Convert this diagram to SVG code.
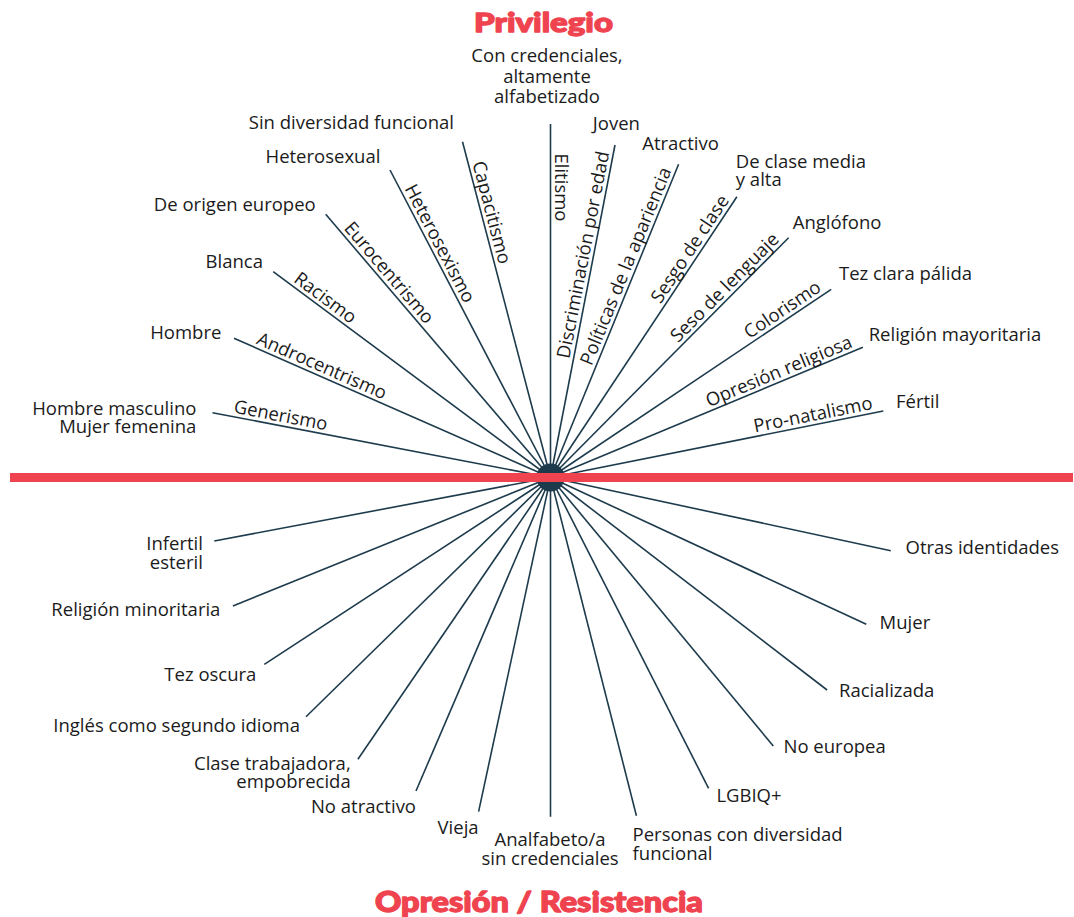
<svg xmlns="http://www.w3.org/2000/svg" width="1074" height="917" viewBox="0 0 1074 917">
<style>
.t{font-family:"Open Sans","DejaVu Sans",sans-serif;font-size:18.5px;fill:#1b1b1b}
.e{text-anchor:end}
.m{text-anchor:middle}
.lab{font-family:"Open Sans","DejaVu Sans",sans-serif;font-size:18.5px;fill:#1b1b1b}
.title{font-family:"Lato","Open Sans",sans-serif;font-weight:900;fill:#ef4450;stroke:#ef4450;stroke-width:1.3;stroke-linejoin:round;text-anchor:middle}
.ln{stroke:#1d3b4c;stroke-width:1.6;fill:none}
</style>
<rect width="1074" height="917" fill="#ffffff"/>
<g id="connectors">
<circle cx="550.5" cy="477.5" r="14" fill="#1d3b4c"/>
<g class="ln">
<line x1="550.5" y1="477.5" x2="212.5" y2="412.7"/>
<line x1="550.5" y1="477.5" x2="234" y2="338.3"/>
<line x1="550.5" y1="477.5" x2="273.2" y2="271.7"/>
<line x1="550.5" y1="477.5" x2="325.7" y2="214.3"/>
<line x1="550.5" y1="477.5" x2="390" y2="170"/>
<line x1="550.5" y1="477.5" x2="462.5" y2="141.7"/>
<line x1="550.5" y1="477.5" x2="550.5" y2="124"/>
<line x1="550.5" y1="477.5" x2="615" y2="145"/>
<line x1="550.5" y1="477.5" x2="678.6" y2="164.3"/>
<line x1="550.5" y1="477.5" x2="736.9" y2="196.7"/>
<line x1="550.5" y1="477.5" x2="788.6" y2="237.7"/>
<line x1="550.5" y1="477.5" x2="831.2" y2="289.3"/>
<line x1="550.5" y1="477.5" x2="862.9" y2="347.3"/>
<line x1="550.5" y1="477.5" x2="883.3" y2="411"/>
<line x1="550.5" y1="477.5" x2="214.3" y2="541"/>
<line x1="550.5" y1="477.5" x2="232.9" y2="606"/>
<line x1="550.5" y1="477.5" x2="264.3" y2="664.3"/>
<line x1="550.5" y1="477.5" x2="306" y2="716.7"/>
<line x1="550.5" y1="477.5" x2="357.9" y2="759.3"/>
<line x1="550.5" y1="477.5" x2="416" y2="791"/>
<line x1="550.5" y1="477.5" x2="478.6" y2="811.7"/>
<line x1="550.5" y1="477.5" x2="550.5" y2="816.7"/>
<line x1="550.5" y1="477.5" x2="636.4" y2="815.7"/>
<line x1="550.5" y1="477.5" x2="708.6" y2="788.3"/>
<line x1="550.5" y1="477.5" x2="773.3" y2="746"/>
<line x1="550.5" y1="477.5" x2="827.1" y2="690"/>
<line x1="550.5" y1="477.5" x2="866.3" y2="624.3"/>
<line x1="550.5" y1="477.5" x2="890.8" y2="550.7"/>
</g>
<g id="edge-labels" class="lab">
<text transform="translate(232.3,416.5) rotate(10.85)" y="-4">Generismo</text>
<text transform="translate(253.9,347.1) rotate(23.74)" y="-4">Androcentrismo</text>
<text transform="translate(290.3,284.4) rotate(36.58)" y="-4">Racismo</text>
<text transform="translate(340.1,231.1) rotate(49.5)" y="-4">Eurocentrismo</text>
<text transform="translate(400.6,190.3) rotate(62.44)" y="-4">Heterosexismo</text>
<text transform="translate(468.4,164.1) rotate(75.31)" y="-4">Capacitismo</text>
<text transform="translate(550.5,153.5) rotate(90)" y="-4">Elitismo</text>
<text class="e" transform="translate(613.3,153.5) rotate(-79.02)" y="-4">Discriminación por edad</text>
<text class="e" transform="translate(675.4,172.1) rotate(-67.76)" y="-4">Políticas de la apariencia</text>
<text class="e" transform="translate(733,202.6) rotate(-56.42)" y="-4">Sesgo de clase</text>
<text class="e" transform="translate(783,243.3) rotate(-45.2)" y="-4">Seso de lenguaje</text>
<text class="e" transform="translate(824.6,293.7) rotate(-33.84)" y="-4">Colorismo</text>
<text class="e" transform="translate(855.1,350.6) rotate(-22.63)" y="-4">Opresión religiosa</text>
<text class="e" transform="translate(874.1,412.8) rotate(-11.3)" y="-4">Pro-natalismo</text>
</g>
</g>
<rect id="axis" x="10" y="473" width="1063" height="9" fill="#ef4450"/>
<text class="title" x="543.5" y="31.7" font-size="27" textLength="139" lengthAdjust="spacingAndGlyphs">Privilegio</text>
<text class="title" x="539" y="911.7" font-size="28" textLength="328" lengthAdjust="spacingAndGlyphs">Opresión / Resistencia</text>
<g id="n-credenciales" class="t m"><text x="547" y="61.7">Con credenciales,</text><text x="547" y="82.7">altamente</text><text x="547" y="103.3">alfabetizado</text></g>
<g id="n-sin-diversidad" class="t e"><text x="454" y="129">Sin diversidad funcional</text></g>
<g id="n-heterosexual" class="t e"><text x="380.4" y="162.7">Heterosexual</text></g>
<g id="n-europeo" class="t e"><text x="315.7" y="211">De origen europeo</text></g>
<g id="n-blanca" class="t e"><text x="263" y="268">Blanca</text></g>
<g id="n-hombre" class="t e"><text x="221.4" y="339">Hombre</text></g>
<g id="n-masculino" class="t e"><text x="196.4" y="414.5">Hombre masculino</text><text x="196.4" y="433">Mujer femenina</text></g>
<g id="n-joven" class="t"><text x="592.8" y="130">Joven</text></g>
<g id="n-atractivo" class="t"><text x="642.2" y="150">Atractivo</text></g>
<g id="n-clase-media" class="t"><text x="735.8" y="167.5">De clase media</text><text x="735.8" y="186">y alta</text></g>
<g id="n-anglofono" class="t"><text x="792.7" y="229">Anglófono</text></g>
<g id="n-tez-clara" class="t"><text x="839" y="280">Tez clara pálida</text></g>
<g id="n-religion-may" class="t"><text x="868.7" y="340.7">Religión mayoritaria</text></g>
<g id="n-fertil" class="t"><text x="896" y="408.3">Fértil</text></g>
<g id="n-infertil" class="t e"><text x="202.9" y="550">Infertil</text><text x="202.9" y="568.5">esteril</text></g>
<g id="n-religion-min" class="t e"><text x="220.4" y="616">Religión minoritaria</text></g>
<g id="n-tez-oscura" class="t e"><text x="256.4" y="680.7">Tez oscura</text></g>
<g id="n-ingles" class="t e"><text x="300" y="732.3">Inglés como segundo idioma</text></g>
<g id="n-clase-trab" class="t e"><text x="350.7" y="769.5">Clase trabajadora,</text><text x="350.7" y="788">empobrecida</text></g>
<g id="n-no-atractivo" class="t e"><text x="416" y="812.7">No atractivo</text></g>
<g id="n-vieja" class="t e"><text x="478.6" y="833.5">Vieja</text></g>
<g id="n-analfabeto" class="t m"><text x="550" y="845.5">Analfabeto/a</text><text x="550" y="864.5">sin credenciales</text></g>
<g id="n-personas" class="t"><text x="632.6" y="841">Personas con diversidad</text><text x="632.6" y="860">funcional</text></g>
<g id="n-lgbiq" class="t"><text x="716.4" y="802.3">LGBIQ+</text></g>
<g id="n-no-europea" class="t"><text x="783.5" y="753.3">No europea</text></g>
<g id="n-racializada" class="t"><text x="839" y="696.7">Racializada</text></g>
<g id="n-mujer" class="t"><text x="879.6" y="629.3">Mujer</text></g>
<g id="n-otras" class="t"><text x="905.5" y="554">Otras identidades</text></g>
</svg>
